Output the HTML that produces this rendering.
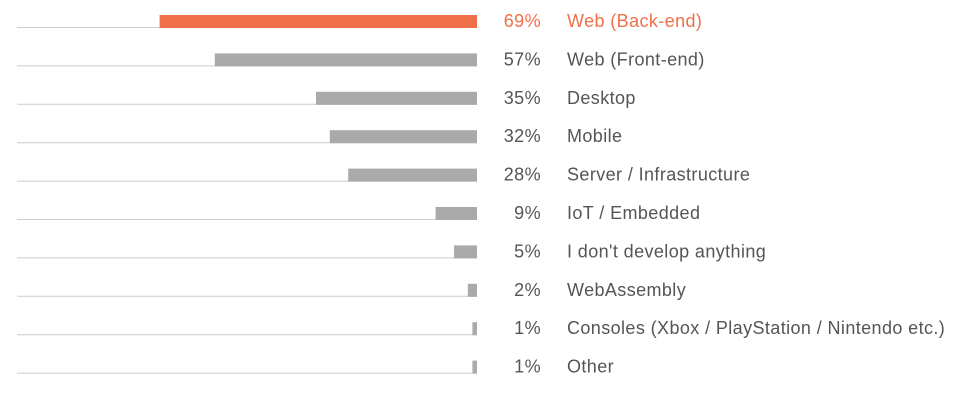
<!DOCTYPE html>
<html><head><meta charset="utf-8"><style>
body{margin:0;background:#fff;width:964px;height:400px;overflow:hidden;font-family:"Liberation Sans",sans-serif}
</style></head><body>
<svg id="chart" width="964" height="400" xmlns="http://www.w3.org/2000/svg"></svg>
<script>
const categories=["Web (Back-end)","Web (Front-end)","Desktop","Mobile","Server / Infrastructure","IoT / Embedded","I don't develop anything","WebAssembly","Consoles (Xbox / PlayStation / Nintendo etc.)","Other"];
const values=[69,57,35,32,28,9,5,2,1,1];
const highlight=[true,false,false,false,false,false,false,false,false,false];
const svg=document.getElementById('chart');
const NS='http://www.w3.org/2000/svg';
const right=477,left=17,scale=4.6,barH=13;
function yRow(i){return 15+i*38.4;}
categories.forEach((c,i)=>{
  const y=yRow(i);
  const col=highlight[i]?'#ef7048':'#aaaaaa';
  const tcol=highlight[i]?'#ef7048':'#555555';
  const ln=document.createElementNS(NS,'line');
  ln.setAttribute('x1',left);ln.setAttribute('x2',right);ln.setAttribute('y1',y+barH-0.5);ln.setAttribute('y2',y+barH-0.5);
  ln.setAttribute('stroke','#cccccc');ln.setAttribute('stroke-width','1');
  
  
  svg.appendChild(ln);
  const r=document.createElementNS(NS,'rect');
  const w=Math.max(values[i]*scale,4);
  r.setAttribute('x',right-w);r.setAttribute('y',y);r.setAttribute('width',w);r.setAttribute('height',barH);r.setAttribute('fill',col);
  
  
  svg.appendChild(r);
  const p=document.createElementNS(NS,'text');
  p.setAttribute('x',541);p.setAttribute('y',y+12);p.setAttribute('text-anchor','end');p.setAttribute('font-size','18');p.setAttribute('letter-spacing','0.4');p.setAttribute('fill',tcol);
  p.textContent=values[i]+'%';
  
  
  svg.appendChild(p);
  const t=document.createElementNS(NS,'text');
  t.setAttribute('x',567);t.setAttribute('y',y+12);t.setAttribute('font-size','18');t.setAttribute('letter-spacing','0.4');t.setAttribute('fill',tcol);
  t.textContent=c;
  
  
  svg.appendChild(t);
});
</script>
</body></html>
